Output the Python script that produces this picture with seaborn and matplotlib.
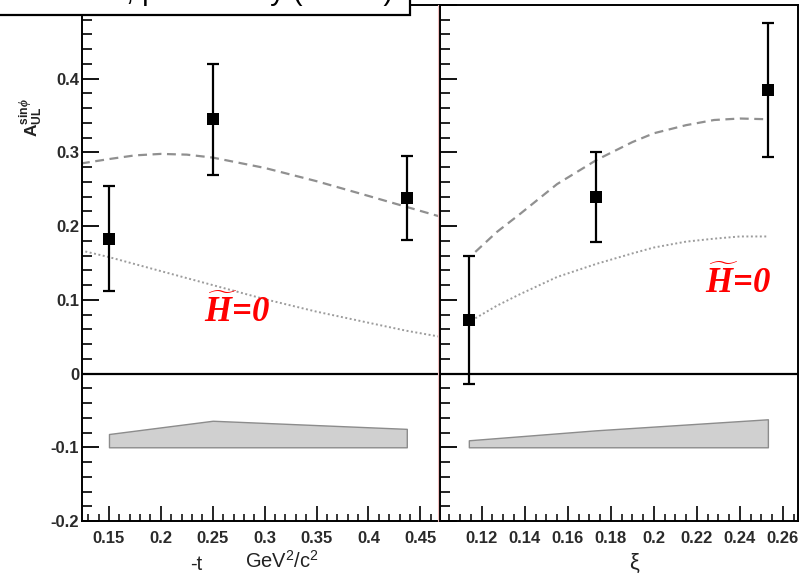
import numpy as np
import pandas as pd
import matplotlib
matplotlib.use("Agg")
import matplotlib.pyplot as plt
import seaborn as sns
from matplotlib.patches import Rectangle
from matplotlib.lines import Line2D
from matplotlib.ticker import MultipleLocator, FuncFormatter

# ---------------- data ----------------
t_vals = [0.15, 0.25, 0.437]
t_asym = [0.183, 0.345, 0.238]
t_err = [0.071, 0.075, 0.057]
t_sys = [0.018, 0.036, 0.025]

xi_vals = [0.114, 0.173, 0.253]
xi_asym = [0.073, 0.240, 0.385]
xi_err = [0.087, 0.061, 0.091]
xi_sys = [0.0095, 0.023, 0.038]

sys_base = -0.1

# model curves
t_curve_x = [0.123, 0.15, 0.175, 0.20, 0.225, 0.25, 0.30, 0.35, 0.40, 0.437, 0.469]
t_dashed = [0.285, 0.291, 0.296, 0.298, 0.297, 0.293, 0.279, 0.261, 0.241, 0.226, 0.213]
t_dotted_x = [0.123, 0.15, 0.20, 0.25, 0.30, 0.35, 0.40, 0.437, 0.469]
t_dotted = [0.167, 0.158, 0.139, 0.120, 0.101, 0.084, 0.069, 0.058, 0.050]

xi_curve_x = [0.117, 0.127, 0.138, 0.155, 0.1735, 0.19, 0.20, 0.215, 0.228, 0.24, 0.253]
xi_dashed = [0.165, 0.192, 0.217, 0.257, 0.290, 0.314, 0.326, 0.337, 0.344, 0.346, 0.345]
xi_dotted = [0.075, 0.092, 0.108, 0.131, 0.149, 0.163, 0.171, 0.179, 0.183, 0.186, 0.186]

label_H = r"$\widetilde{H}$=0"
header_text = "CLAS, preliminary (DVCS)"

# ---------------- style ----------------
sns.set_theme(style="ticks")
plt.rcParams["font.family"] = ["Liberation Sans", "DejaVu Sans"]
plt.rcParams["mathtext.fontset"] = "custom"
plt.rcParams["mathtext.rm"] = "Liberation Sans"
plt.rcParams["mathtext.it"] = "Liberation Serif:italic:bold"
plt.rcParams["mathtext.bf"] = "Liberation Sans:bold"

W, H = 811, 577
fig = plt.figure(figsize=(W / 100, H / 100), dpi=100)
fig.patch.set_facecolor("white")

x0, x1, x2 = 82, 440, 798
ytop, ybot = 5, 521
axL = fig.add_axes([x0 / W, 1 - ybot / H, (x1 - x0) / W, (ybot - ytop) / H])
axR = fig.add_axes([x1 / W, 1 - ybot / H, (x2 - x1) / W, (ybot - ytop) / H])

def tickfmt(v, p):
    if v > 0.45:
        return ""
    return "%g" % round(v, 4)

fmt = FuncFormatter(tickfmt)

def draw_panel(ax, xs, ys, errs, syss, cx, cdash, cdx, cdot, xlim):
    ax.set_facecolor("white")
    ax.set_xlim(*xlim)
    ax.set_ylim(-0.2, 0.5)
    ax.axhline(0, color="black", lw=1.6, zorder=2)
    sys_top = [sys_base + s for s in syss]
    ax.fill_between(xs, [sys_base] * len(xs), sys_top, facecolor="#d0d0d0",
                    edgecolor="#8c8c8c", lw=1.0, zorder=1)
    sns.lineplot(x=cx, y=cdash, ax=ax, color="#909090", lw=1.6,
                 linestyle=(0, (4, 2.5)), zorder=2)
    sns.lineplot(x=cdx, y=cdot, ax=ax, color="#9c9c9c", lw=1.4,
                 linestyle=(0, (1, 1.3)), zorder=2)
    ax.errorbar(xs, ys, yerr=errs, fmt="none", ecolor="black", elinewidth=1.6,
                capsize=4.5, capthick=1.6, zorder=3)
    sns.scatterplot(x=xs, y=ys, ax=ax, marker="s", s=85, color="black",
                    edgecolor="black", linewidth=0, zorder=4)
    for sp in ax.spines.values():
        sp.set_color("black")
        sp.set_linewidth(1.4)
    ax.yaxis.set_major_locator(MultipleLocator(0.1))
    ax.yaxis.set_minor_locator(MultipleLocator(0.02))
    ax.tick_params(axis="y", which="major", direction="in", length=12, width=1.3,
                   color="black", left=True, right=False)
    ax.tick_params(axis="y", which="minor", direction="in", length=7, width=1.2,
                   color="black", left=True, right=False)
    ax.tick_params(axis="x", which="major", direction="in", length=11, width=1.2,
                   color="black", pad=7, top=False)
    ax.tick_params(axis="x", which="minor", direction="in", length=5, width=1.1,
                   color="black", top=False)
    ax.xaxis.set_major_formatter(FuncFormatter(lambda v, p: "%g" % round(v, 4)))
    ax.yaxis.set_major_formatter(fmt)
    ax.set_xlabel("")
    ax.set_ylabel("")

draw_panel(axL, t_vals, t_asym, t_err, t_sys, t_curve_x, t_dashed,
           t_dotted_x, t_dotted, (0.124, 0.469))
axL.xaxis.set_major_locator(MultipleLocator(0.05))
axL.xaxis.set_minor_locator(MultipleLocator(0.01))
axL.tick_params(axis="y", pad=2)

draw_panel(axR, xi_vals, xi_asym, xi_err, xi_sys, xi_curve_x, xi_dashed,
           xi_curve_x, xi_dotted, (0.1006, 0.267))
axR.xaxis.set_major_locator(MultipleLocator(0.02))
axR.xaxis.set_minor_locator(MultipleLocator(0.005))
axR.tick_params(axis="y", labelleft=False)

for ax in (axL, axR):
    for lab in ax.get_xticklabels() + ax.get_yticklabels():
        lab.set_fontweight("bold")
        lab.set_fontsize(12)
        lab.set_color("#2a2a2a")

# H~=0 annotations
hkw = dict(color="red", fontsize=25, fontfamily="Liberation Serif",
           fontstyle="italic", fontweight="bold", ha="center", va="baseline", zorder=5)
axL.text(0.2734, 0.0696, label_H, **hkw)
axR.text(0.2392, 0.109, label_H, **hkw)

# axis labels
fig.text(31 / W, 1 - 118 / H, r"A$_{\mathbf{UL}}^{\mathbf{sin}\phi}$", rotation=90,
         ha="center", va="center", fontsize=12.5, fontweight="bold", color="#222222")
fig.text(196 / W, 1 - 565 / H, "-t", ha="center", va="center", fontsize=14.5, color="#222222")
fig.text(282 / W, 1 - 561 / H, r"GeV$^{2}$/c$^{2}$", ha="center", va="center",
         fontsize=14.5, color="#222222")
fig.text(634 / W, 1 - 563 / H, "ξ", ha="center", va="center", fontsize=16, color="#222222")

# faint separator line
fig.add_artist(Line2D([438 / W, 438 / W], [1 - ybot / H, 1 - ytop / H],
                      transform=fig.transFigure, color="#f3c0c0", lw=0.8, zorder=1))

# clipped header box (text is cut off at the top edge, as in the reference)
fig.add_artist(Rectangle((-0.01, 1 - 15 / H), 410 / W + 0.01, 0.05,
                         transform=fig.transFigure, facecolor="white",
                         edgecolor="black", lw=1.6, zorder=10))
fig.text(50 / W, 1.0, header_text, ha="left", va="baseline",
         fontsize=21, color="black", zorder=11)

fig.savefig("out.png", dpi=100, facecolor="white")
